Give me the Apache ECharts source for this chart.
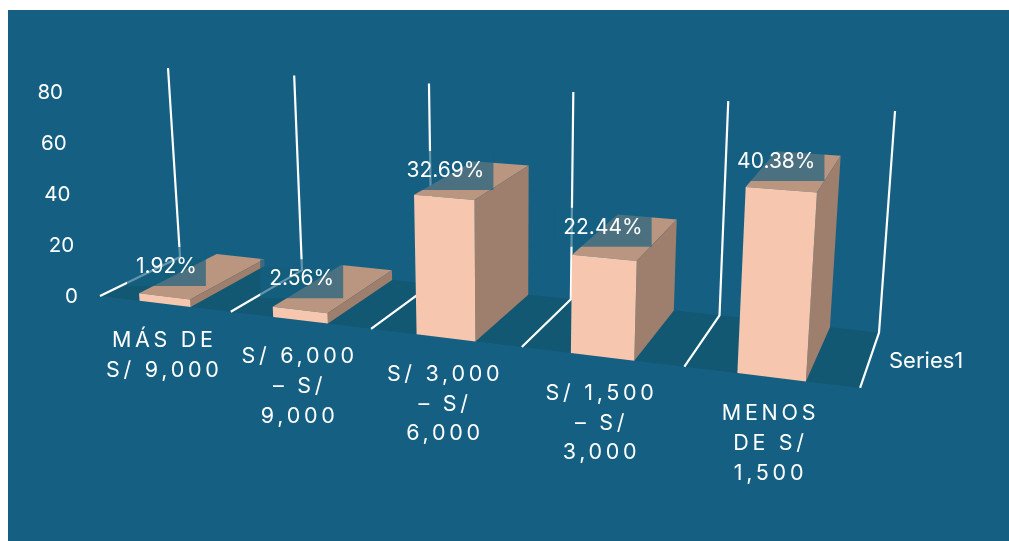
<!DOCTYPE html>
<html>
<head>
<meta charset="utf-8">
<style>html,body{margin:0;padding:0;background:#fff}#main{width:1009px;height:541px}</style>
<script src="https://cdn.jsdelivr.net/npm/echarts@6/dist/echarts.min.js"></script>
</head>
<body>
<div id="main"></div>
<script>
const categories = ['MÁS DE\nS/ 9,000', 'S/ 6,000\n– S/\n9,000', 'S/ 3,000\n– S/\n6,000', 'S/ 1,500\n– S/\n3,000', 'MENOS\nDE S/\n1,500'];
const seriesValues = [1.92, 2.56, 32.69, 22.44, 40.38];
const valueTicks = [0, 20, 40, 60, 80];
const wallLines = [0, 1, 2, 3, 4, 5];
const seriesName = 'Series1';

// tracked text for the category labels (identified by their font size)
const nativeFill = CanvasRenderingContext2D.prototype.fillText;
CanvasRenderingContext2D.prototype.fillText = function (t, x, y, m) {
  this.letterSpacing = this.font.indexOf('21.5px') >= 0 ? '3.7px' : '0px';
  return m === undefined ? nativeFill.call(this, t, x, y) : nativeFill.call(this, t, x, y, m);
};

const GRID = { left: 86, top: 93, width: 800, height: 204 };
const DEPTH_MAX = 51.2;
const BAR_LEFT = -0.19, BAR_RIGHT = 0.2;
const C = { front: '#F6C7AE', top: '#BA9681', side: '#9E7E6D', floor: '#125873', bg: '#156082' };

// perspective camera: u along categories (0-1), z into the floor (0-1), v in value units
function project(u, z, v) {
  const w = 1 - 0.1687 * u + 0.092 * z - 0.000749 * v;
  return [(100 + 615 * u + 96.6 * z - 0.382 * v) / w,
          (296 + 26.5 * u - 15.4 * z - 4.08 * v) / w];
}
function toU(api, cat, frac) {
  const bw = api.size([1, 0])[0];
  return (api.coord([cat, 0])[0] + frac * bw - GRID.left) / GRID.width;
}
function toV(api, val) {
  return (GRID.top + GRID.height - api.coord([0, val])[1]) / GRID.height * DEPTH_MAX;
}

const richTicks = {};
valueTicks.forEach(v => {
  richTicks['t' + v] = { color: '#fff', fontSize: 20.5, fontFamily: 'Inter', padding: [0, v * 3.75 / 20, 0, 0] };
});

const option = {
  animation: false,
  backgroundColor: '#fff',
  textStyle: { fontFamily: 'Inter' },
  graphic: [{ type: 'rect', z: -10, silent: true, shape: { x: 8, y: 10, width: 1001, height: 531 }, style: { fill: C.bg } }],
  legend: {
    left: 879, top: 345, data: [{ name: seriesName, icon: 'none' }], itemWidth: 0, itemHeight: 0, selectedMode: false,
    textStyle: { color: '#fff', fontSize: 22, fontFamily: 'Inter' }
  },
  grid: { left: GRID.left, top: GRID.top, width: GRID.width, height: GRID.height, containLabel: false },
  xAxis: { type: 'category', data: categories, show: false },
  yAxis: [
    { type: 'value', min: 0, max: 80, interval: 20,
      axisLine: { show: false }, axisTick: { show: false }, splitLine: { show: false },
      axisLabel: { margin: 8, formatter: v => '{t' + v + '|' + v + '}', rich: richTicks } },
    { type: 'value', min: 0, max: DEPTH_MAX, show: false, splitLine: { show: false } }
  ],
  series: [
    { type: 'custom', name: 'floor', yAxisIndex: 1, z: 2, silent: true, data: [[0, 0]],
      renderItem(p, api) {
        const u0 = toU(api, 0, -0.5), u1 = toU(api, 4, 0.5);
        return { type: 'polygon', shape: { points: [project(u0, 0, 0), project(u1, 0, 0), project(u1, 1, 0), project(u0, 1, 0)] },
          style: { fill: C.floor } };
      } },
    { type: 'custom', name: 'walls', yAxisIndex: 1, z: 3, silent: true, data: wallLines.map(k => [k]),
      renderItem(p, api) {
        const k = api.value(0);
        const u = k < 5 ? toU(api, k, -0.5) : toU(api, 4, 0.5);
        const vTop = toV(api, DEPTH_MAX);
        return { type: 'polyline', shape: { points: [project(u, 0, 0), project(u, 1, 0), project(u, 1, vTop)] },
          style: { stroke: '#fff', lineWidth: 2.2, fill: null } };
      } },
    { type: 'custom', name: seriesName, yAxisIndex: 1, z: 4, silent: true,
      data: seriesValues.map((v, i) => [i, v]), encode: { x: 0, y: 1 },
      renderItem(p, api) {
        const i = api.value(0), v = toV(api, api.value(1));
        const a = toU(api, i, BAR_LEFT), b = toU(api, i, BAR_RIGHT);
        return { type: 'group', children: [
          { type: 'polygon', shape: { points: [project(a, 1, v), project(b, 1, v), project(b, 0, v), project(a, 0, v)] }, style: { fill: C.top } },
          { type: 'polygon', shape: { points: [project(b, 0, 0), project(b, 1, 0), project(b, 1, v), project(b, 0, v)] }, style: { fill: C.side } },
          { type: 'polygon', shape: { points: [project(a, 0, 0), project(b, 0, 0), project(b, 0, v), project(a, 0, v)] }, style: { fill: C.front } }
        ] };
      } },
    { type: 'custom', name: 'labels', yAxisIndex: 1, z: 5, silent: true,
      data: seriesValues.map((v, i) => [i, v]),
      renderItem(p, api) {
        const i = api.value(0), val = api.value(1);
        const c = project(toU(api, i, 0), 0.5, toV(api, val));
        return { type: 'text', style: {
          text: val.toFixed(2) + '%', x: c[0] - 37 + 4.7 * i, y: c[1] - 9, align: 'center', verticalAlign: 'middle',
          fill: '#fff', fontSize: 21, fontFamily: 'Inter',
          backgroundColor: 'rgba(21,96,130,0.67)', padding: [9, 9] } };
      } },
    { type: 'custom', name: 'categories', yAxisIndex: 1, z: 5, silent: true,
      data: categories.map((c, i) => [i]),
      renderItem(p, api) {
        const i = api.value(0);
        const c = project(toU(api, i, 0), 0, 0);
        return { type: 'text', style: {
          text: categories[i], x: c[0], y: c[1] + 22, align: 'center', verticalAlign: 'top',
          fill: '#fff', fontSize: 21.5, fontFamily: 'Inter', lineHeight: 29.7 } };
      } }
  ]
};
echarts.init(document.getElementById('main')).setOption(option);
</script>
</body>
</html>
